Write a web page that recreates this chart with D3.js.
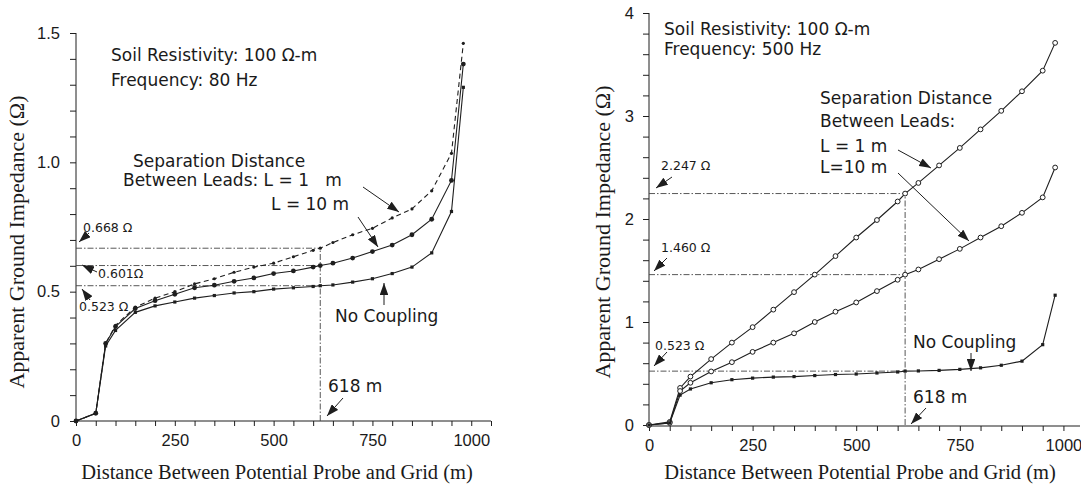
<!DOCTYPE html>
<html>
<head>
<meta charset="utf-8">
<script src="https://cdn.jsdelivr.net/npm/d3@7"></script>
<style>
  body { margin: 0; background: #fff; }
  svg text { fill: #1a1a1a; }
  .ann { font-family: "DejaVu Sans", sans-serif; font-size: 17px; }
  .small { font-family: "DejaVu Sans", sans-serif; font-size: 12.5px; }
  .tick text { font-family: "Liberation Sans", Arial, sans-serif; font-size: 16.5px; }
  .title { font-family: "Liberation Serif", "Times New Roman", serif; font-size: 20.5px; }
  .ytitle { font-size: 22px; }
</style>
</head>
<body>
<svg id="chart" width="1081" height="490"></svg>
<script>
// distances along the traverse (m)
const distance = [0, 50, 75, 100, 150, 200, 250, 300, 350, 400, 450, 500, 550, 600, 618, 650, 700, 750, 800, 850, 900, 950, 980];

// 80 Hz case
const z80_L1   = [0, 0.03, 0.30, 0.37, 0.44, 0.475, 0.50, 0.53, 0.55, 0.575, 0.595, 0.61, 0.635, 0.66, 0.668, 0.69, 0.72, 0.745, 0.785, 0.82, 0.89, 1.035, 1.46];
const z80_L10  = [0, 0.03, 0.30, 0.365, 0.435, 0.465, 0.49, 0.515, 0.525, 0.54, 0.553, 0.57, 0.58, 0.595, 0.601, 0.61, 0.63, 0.655, 0.68, 0.72, 0.78, 0.93, 1.38];
const z80_none = [0, 0.03, 0.29, 0.35, 0.42, 0.445, 0.46, 0.475, 0.485, 0.495, 0.50, 0.51, 0.515, 0.52, 0.523, 0.526, 0.537, 0.55, 0.57, 0.595, 0.65, 0.81, 1.29];

// 500 Hz case
const z500_L1   = [0, 0.03, 0.36, 0.47, 0.64, 0.80, 0.95, 1.12, 1.29, 1.46, 1.64, 1.82, 1.99, 2.17, 2.247, 2.35, 2.52, 2.69, 2.87, 3.05, 3.24, 3.44, 3.71];
const z500_L10  = [0, 0.02, 0.33, 0.41, 0.52, 0.61, 0.71, 0.80, 0.89, 1.00, 1.10, 1.19, 1.30, 1.41, 1.46, 1.51, 1.61, 1.71, 1.82, 1.93, 2.06, 2.21, 2.50];
const z500_none = [0, 0.02, 0.29, 0.35, 0.41, 0.44, 0.455, 0.465, 0.47, 0.48, 0.49, 0.495, 0.505, 0.515, 0.523, 0.525, 0.53, 0.54, 0.555, 0.58, 0.62, 0.78, 1.26];

const xTicks = [0, 250, 500, 750, 1000];
const yTicks80 = [0, 0.5, 1.0, 1.5];
const yTicks500 = [0, 1, 2, 3, 4];

const svg = d3.select("#chart");
const ink = "#1e1e1e";

svg.append("defs").append("marker")
    .attr("id", "arrow")
    .attr("viewBox", "0 0 14 10")
    .attr("refX", 14).attr("refY", 5)
    .attr("markerWidth", 12).attr("markerHeight", 8.5)
    .attr("markerUnits", "userSpaceOnUse")
    .attr("orient", "auto")
    .append("path")
    .attr("d", "M0,0 L14,5 L0,10 z")
    .attr("fill", ink);

function drawPanel(cfg) {
    const g = svg.append("g");
    const x = d3.scaleLinear().domain(cfg.xDomain).range(cfg.xRange);
    const y = d3.scaleLinear().domain(cfg.yDomain).range(cfg.yRange);

    // axes
    const xAxis = d3.axisBottom(x)
        .tickValues(d3.range(0, cfg.xDomain[1] + 1, 50))
        .tickSize(5)
        .tickFormat(d => xTicks.includes(d) ? d : "");
    g.append("g")
        .attr("transform", `translate(0,${cfg.xAxisY})`)
        .call(xAxis)
        .call(a => a.select(".domain").attr("d", `M${x.range()[0]},0H${x.range()[1]}`))
        .call(a => a.selectAll(".tick text").attr("dy", "1.0em"));

    const yAxis = d3.axisLeft(y)
        .tickValues(d3.range(0, cfg.yDomain[1] + 1e-9, cfg.minor))
        .tickSize(6)
        .tickFormat(d => {
            const hit = cfg.yTicks.find(t => Math.abs(t - d) < 1e-6);
            return hit === undefined ? "" : cfg.yFmt(hit);
        });
    g.append("g")
        .attr("transform", `translate(${x(0)},0)`)
        .call(yAxis)
        .call(a => a.select(".domain").attr("d", `M0,${y.range()[1]}V${cfg.xAxisY}`))
        .call(a => a.selectAll(".tick text").attr("x", cfg.yLabelX));

    g.selectAll(".domain, .tick line").attr("stroke", ink).attr("stroke-width", 1);

    // reference dash-dot lines at 618 m
    const refStyle = s => s.attr("stroke", "#444").attr("stroke-width", 0.9)
        .attr("stroke-dasharray", "6,2,1.5,2").attr("fill", "none");
    cfg.refs.forEach(v => {
        g.append("line").call(refStyle)
            .attr("x1", x(0)).attr("x2", x(618))
            .attr("y1", y(v)).attr("y2", y(v));
    });
    g.append("line").call(refStyle)
        .attr("x1", x(618)).attr("x2", x(618))
        .attr("y1", y(0)).attr("y2", y(d3.max(cfg.refs)));

    // series
    const line = d3.line().x((d, i) => x(distance[i])).y(d => y(d));
    cfg.series.forEach(s => {
        g.append("path")
            .datum(s.values)
            .attr("d", line)
            .attr("fill", "none")
            .attr("stroke", ink)
            .attr("stroke-width", 1.1)
            .attr("stroke-dasharray", s.dash || null);

        const pts = g.append("g").selectAll("g")
            .data(s.values)
            .enter();
        if (s.marker === "square") {
            pts.append("rect")
                .attr("x", (d, i) => x(distance[i]) - 1.6)
                .attr("y", d => y(d) - 1.6)
                .attr("width", 3.2).attr("height", 3.2)
                .attr("fill", ink);
        } else if (s.marker === "dot") {
            pts.append("circle")
                .attr("cx", (d, i) => x(distance[i]))
                .attr("cy", d => y(d))
                .attr("r", s.r || 2.2)
                .attr("fill", ink);
        } else {
            pts.append("circle")
                .attr("cx", (d, i) => x(distance[i]))
                .attr("cy", d => y(d))
                .attr("r", 2.4)
                .attr("fill", "#fff")
                .attr("stroke", ink)
                .attr("stroke-width", 1);
        }
    });

    // texts
    cfg.texts.forEach(t => {
        g.append("text")
            .attr("class", t.cls || "ann")
            .attr("x", t.x).attr("y", t.y)
            .attr("dominant-baseline", "middle")
            .attr("xml:space", "preserve")
            .text(t.s);
    });

    // arrows
    cfg.arrows.forEach(a => {
        g.append("line")
            .attr("x1", a[0]).attr("y1", a[1])
            .attr("x2", a[2]).attr("y2", a[3])
            .attr("stroke", ink).attr("stroke-width", 1)
            .attr("marker-end", "url(#arrow)");
    });

    // axis titles
    g.append("text")
        .attr("class", "title")
        .attr("text-anchor", "middle")
        .attr("x", cfg.xTitleX)
        .attr("y", 474)
        .attr("dominant-baseline", "middle")
        .text("Distance Between Potential Probe and Grid (m)");
    g.append("text")
        .attr("class", "title ytitle")
        .attr("text-anchor", "middle")
        .attr("dominant-baseline", "middle")
        .attr("transform", `translate(${cfg.yTitleX},${cfg.yTitleY}) rotate(-90)`)
        .text("Apparent Ground Impedance (\u03A9)");
}

drawPanel({
    xDomain: [0, 1050], xRange: [76, 491],
    yDomain: [0, 1.5], yRange: [421, 33],
    xAxisY: 421, minor: 0.1, yTicks: yTicks80, yLabelX: -16,
    yFmt: d => d === 0 ? "0" : d3.format(".1f")(d),
    refs: [0.668, 0.601, 0.523],
    series: [
        { values: z80_L1, dash: "5,3.5", marker: "dot", r: 1.6 },
        { values: z80_L10, marker: "dot", r: 2.4 },
        { values: z80_none, marker: "square" }
    ],
    texts: [
        { s: "Soil Resistivity: 100 \u03A9-m", x: 111, y: 56 },
        { s: "Frequency: 80 Hz", x: 111, y: 81 },
        { s: "Separation Distance", x: 133, y: 162 },
        { s: "Between Leads: L = 1   m", x: 123, y: 181 },
        { s: "L = 10 m", x: 271, y: 205 },
        { s: "0.668 \u03A9", x: 83, y: 228, cls: "small" },
        { s: "0.601\u03A9", x: 98, y: 274, cls: "small" },
        { s: "0.523 \u03A9", x: 79, y: 307, cls: "small" },
        { s: "No Coupling", x: 335, y: 317 },
        { s: "618 m", x: 328, y: 387 }
    ],
    arrows: [
        [363, 187, 399, 212],
        [358, 217, 378, 247],
        [384, 305, 384, 283],
        [343, 398, 327, 416],
        [89, 233, 79, 242],
        [97, 272, 82, 265],
        [90, 300, 82, 289]
    ],
    xTitleX: 277, yTitleX: 19, yTitleY: 242
});

drawPanel({
    xDomain: [0, 1040], xRange: [649, 1080],
    yDomain: [0, 4], yRange: [425, 13],
    xAxisY: 426, minor: 0.2, yTicks: yTicks500, yLabelX: -15,
    yFmt: d => d3.format("d")(d),
    refs: [2.247, 1.460, 0.523],
    series: [
        { values: z500_L1, marker: "open" },
        { values: z500_L10, marker: "open" },
        { values: z500_none, marker: "square" }
    ],
    texts: [
        { s: "Soil Resistivity: 100 \u03A9-m", x: 664, y: 30 },
        { s: "Frequency: 500 Hz", x: 664, y: 50 },
        { s: "Separation Distance", x: 820, y: 99 },
        { s: "Between Leads:", x: 820, y: 122 },
        { s: "L = 1 m", x: 820, y: 147 },
        { s: "L=10 m", x: 820, y: 168 },
        { s: "2.247 \u03A9", x: 661, y: 166, cls: "small" },
        { s: "1.460 \u03A9", x: 661, y: 248, cls: "small" },
        { s: "0.523 \u03A9", x: 655, y: 346, cls: "small" },
        { s: "No Coupling", x: 913, y: 343 },
        { s: "618 m", x: 913, y: 398 }
    ],
    arrows: [
        [898, 150, 931, 168],
        [898, 173, 969, 241],
        [672, 177, 656, 188],
        [667, 258, 654, 271],
        [667, 352, 654, 366],
        [971, 353, 971, 371],
        [926, 408, 911, 424]
    ],
    xTitleX: 860, yTitleX: 605, yTitleY: 232
});
</script>
</body>
</html>
